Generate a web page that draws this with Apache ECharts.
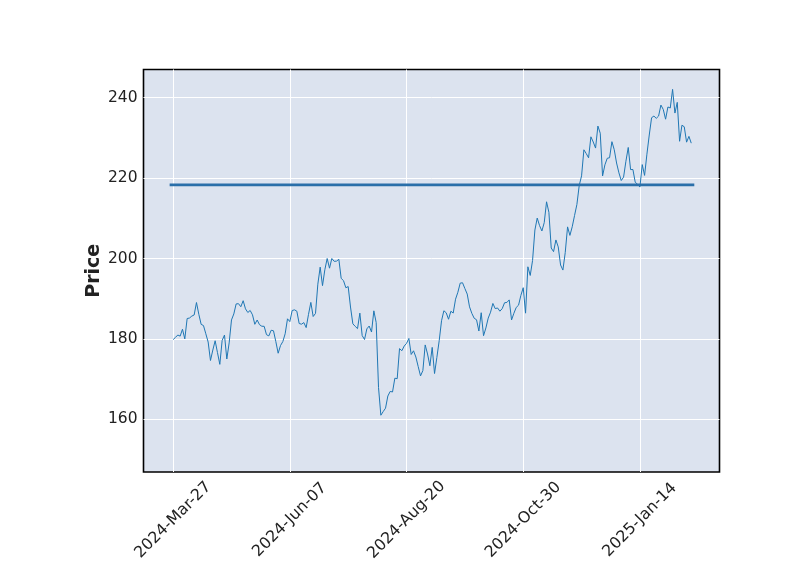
<!DOCTYPE html>
<html>
<head>
<meta charset="utf-8">
<script src="https://cdn.jsdelivr.net/npm/echarts@6/dist/echarts.min.js"></script>
<style>html,body{margin:0;padding:0;background:#fff;}#c{width:800px;height:575px;}</style>
</head>
<body>
<div id="c"></div>
<script>
// Daily closing prices, one per trading day starting 2024-03-27 (index 0)
var closes = [
179.83,180.38,180.97,180.69,182.41,180.00,185.07,185.19,185.67,185.95,
189.05,186.13,183.62,183.32,181.28,179.22,174.63,177.23,179.54,176.59,
173.67,179.62,180.96,175.00,179.00,184.72,186.21,188.70,188.76,188.00,
189.50,187.48,186.57,187.07,185.99,183.63,184.70,183.54,183.15,183.13,
181.05,180.75,182.15,182.02,179.32,176.44,178.34,179.34,181.28,185.00,
184.30,187.06,187.23,186.89,183.83,183.66,184.06,182.81,186.10,189.08,
185.57,186.34,193.61,197.85,193.25,197.20,200.00,197.59,200.00,199.29,
199.34,199.79,195.05,194.49,192.72,193.02,187.93,183.75,183.13,182.55,
186.41,180.83,179.85,182.50,183.20,181.71,186.98,184.07,167.90,161.02,
161.93,162.77,165.80,166.94,166.80,170.23,170.10,177.59,177.06,178.22,
178.88,180.11,176.13,177.04,175.50,173.12,170.80,172.12,178.50,176.25,
173.33,177.89,171.39,175.40,179.55,184.52,187.00,186.49,184.89,186.88,
186.43,189.87,191.60,193.88,193.96,192.53,191.16,187.97,186.33,185.13,
184.76,181.96,186.51,180.80,182.72,185.17,186.65,188.82,187.54,187.69,
186.89,187.53,188.99,189.07,189.70,184.71,186.38,187.83,188.39,190.83,
192.73,186.40,197.93,195.78,199.50,207.09,210.05,208.18,206.84,208.91,
214.10,211.48,202.61,201.70,204.61,202.88,198.38,197.12,201.45,207.86,
205.74,207.89,210.71,213.44,218.16,220.55,227.03,226.09,225.04,230.26,
228.97,227.46,232.93,231.15,220.52,223.29,224.92,225.06,229.05,227.05,
223.75,221.30,219.39,220.22,224.19,227.61,222.11,222.13,218.94,218.46,
217.76,223.35,220.66,225.94,230.71,235.01,235.42,234.85,235.42,238.15,
237.07,234.64,237.68,237.42,242.06,236.17,238.83,229.15,233.14,232.76,
228.93,230.37,228.68
];
var hlineValue = 218.3;
var hlineSpan = [-1.5, 223.3];
var xTickIndex = [0, 50, 100, 150, 200];
var xTickLabels = ['2024-Mar-27', '2024-Jun-07', '2024-Aug-20', '2024-Oct-30', '2025-Jan-14'];
var yTicks = [160, 180, 200, 220, 240];

var lineData = closes.map(function (v, i) { return [i, v]; });
var hlineData = hlineSpan.map(function (x) { return [x, hlineValue]; });

var chart = echarts.init(document.getElementById('c'), null, {renderer: 'canvas'});
chart.setOption({
  animation: false,
  backgroundColor: '#ffffff',
  grid: {
    left: 143.5, top: 69.5, right: 80.5, bottom: 103,
    show: true, backgroundColor: '#dce3ef', borderColor: '#000000', borderWidth: 1.6
  },
  xAxis: {
    type: 'value', min: -12.7, max: 234.1,
    axisLine: {show: false},
    axisTick: {show: false, customValues: xTickIndex},
    splitLine: {show: true, lineStyle: {color: '#ffffff', width: 1}},
    axisLabel: {
      customValues: xTickIndex,
      rotate: 45, align: 'center', verticalAlign: 'middle', margin: 48,
      fontFamily: 'DejaVu Sans', fontSize: 15.8, color: '#222222',
      formatter: function (v) { var i = xTickIndex.indexOf(v); return i >= 0 ? xTickLabels[i] : ''; }
    }
  },
  yAxis: {
    type: 'value', min: 146.9, max: 247.0,
    name: 'Price', nameLocation: 'middle', nameGap: 40, nameMoveOverlap: false,
    nameTextStyle: {fontFamily: 'DejaVu Sans', fontSize: 19, fontWeight: 'bold', color: '#222222'},
    axisLine: {show: false},
    axisTick: {show: false, customValues: yTicks},
    splitLine: {show: true, lineStyle: {color: '#ffffff', width: 1}},
    axisLabel: {
      customValues: yTicks, margin: 6,
      fontFamily: 'DejaVu Sans', fontSize: 15.5, color: '#222222'
    }
  },
  series: [
    {
      type: 'line', data: lineData, showSymbol: false, symbol: 'none',
      lineStyle: {color: '#1f77b4', width: 1}, z: 3
    },
    {
      type: 'line', data: hlineData, showSymbol: false, symbol: 'none',
      lineStyle: {color: '#2a6fa9', width: 2.8}, z: 4
    }
  ]
});
</script>
</body>
</html>
